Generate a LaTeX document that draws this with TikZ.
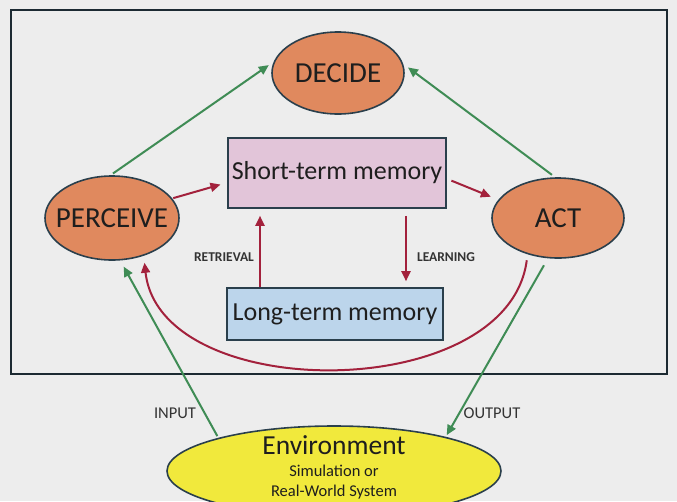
\documentclass[tikz,border=0pt]{standalone}
\usepackage{fontspec}
\setmainfont{Carlito}
\usetikzlibrary{shapes.geometric,arrows.meta}

\definecolor{pagebg}{HTML}{EDEDED}
\definecolor{framecol}{HTML}{1C2A32}
\definecolor{edgecol}{HTML}{2A3F4C}
\definecolor{orangefill}{HTML}{E0895E}
\definecolor{stmfill}{HTML}{E2C5D9}
\definecolor{ltmfill}{HTML}{BCD5EB}
\definecolor{envfill}{HTML}{F1E93C}
\definecolor{flowgreen}{HTML}{3F8C55}
\definecolor{flowred}{HTML}{A3213C}
\definecolor{txtcol}{HTML}{1E1E1E}
\definecolor{lblcol}{HTML}{333333}

\tikzset{
  oval/.style={ellipse, draw=edgecol, line width=1.6pt, fill=orangefill, inner sep=0pt},
  memorybox/.style={rectangle, draw=edgecol, line width=1.6pt, inner sep=0pt},
  bigtxt/.style={text=txtcol, font=\fontsize{29}{31}\selectfont, inner sep=0pt},
  memtxt/.style={text=txtcol, font=\fontsize{26}{28}\selectfont, inner sep=0pt},
  smalltxt/.style={text=txtcol, font=\fontsize{16.5}{18}\selectfont, inner sep=0pt},
  flowlbl/.style={text=lblcol, font=\bfseries\fontsize{13.5}{15}\selectfont, inner sep=0pt},
  iolbl/.style={text=lblcol, font=\fontsize{16.5}{18}\selectfont, inner sep=0pt},
  greenflow/.style={draw=flowgreen, line width=2pt, -{Triangle[length=10pt,width=9pt]}},
  redflow/.style={draw=flowred, line width=2pt, -{Triangle[length=10pt,width=9pt]}}
}

\begin{document}
\begin{tikzpicture}[x=1pt,y=-1pt]
\useasboundingbox (0,0) rectangle (677,501);
\fill[pagebg] (0,0) rectangle (677,501);

% agent boundary
\draw[framecol, line width=2.4pt] (11,10) rectangle (667,374);

% decision cycle nodes
\node[oval, minimum width=132pt, minimum height=82pt] (decide) at (338,73) {};
\node[bigtxt] (decidetxt) at (decide.center) {DECIDE};
\node[oval, minimum width=134pt, minimum height=84pt] (perceive) at (112,218) {};
\node[bigtxt] (perceivetxt) at (perceive.center) {PERCEIVE};
\node[oval, minimum width=132pt, minimum height=80pt] (act) at (558,218) {};
\node[bigtxt] (acttxt) at (act.center) {ACT};

% memories
\node[memorybox, fill=stmfill, minimum width=218pt, minimum height=70pt] (stm) at (337,173) {};
\node[memtxt] (stmtxt) at (stm.center) {Short-term memory};
\node[memorybox, fill=ltmfill, minimum width=216pt, minimum height=52pt] (ltm) at (335,314) {};
\node[memtxt] (ltmtxt) at (ltm.center) {Long-term memory};

% environment
\node[ellipse, draw=edgecol, line width=1.6pt, fill=envfill, inner sep=0pt,
      minimum width=334pt, minimum height=90pt] (env) at (334,471) {};
\node[memtxt, font=\fontsize{27.5}{29}\selectfont] (envtxt) at (334,445) {Environment};
\node[smalltxt] (envsub1) at (334,471) {Simulation or};
\node[smalltxt] (envsub2) at (334,492) {Real-World System};

% green flows
\draw[greenflow, shorten <=3pt, shorten >=6pt] (perceive.92) -- (decide.170);
\draw[greenflow, shorten <=4pt, shorten >=6pt] (act.94) -- (decide.8);
\draw[greenflow, shorten <=2pt, shorten >=7pt] (env.164) -- (perceive.-79);
\draw[greenflow, shorten <=8pt, shorten >=2pt] (act.-104) -- (env.17);

% red flows
\draw[redflow, shorten <=1pt, shorten >=7pt] (perceive.18) -- (stm.185);
\draw[redflow, shorten <=5pt, shorten >=8pt] (stm.-3) -- (act.163);
\draw[redflow, shorten >=7pt] ([xshift=-75pt]ltm.north) -- ([xshift=-77pt]stm.south);
\draw[redflow, shorten <=7pt, shorten >=6pt] ([xshift=69pt]stm.south) -- ([xshift=71pt]ltm.north);
\draw[redflow, shorten <=6pt, shorten >=7pt]
  (act.230) .. controls (508,405) and (160,405) .. (perceive.-50);

% flow labels
\node[flowlbl] (retrieval) at (224,257) {RETRIEVAL};
\node[flowlbl] (learning) at (446,257) {LEARNING};
\node[iolbl] (input) at (175,413) {INPUT};
\node[iolbl] (output) at (492,413) {OUTPUT};
\end{tikzpicture}
\end{document}
